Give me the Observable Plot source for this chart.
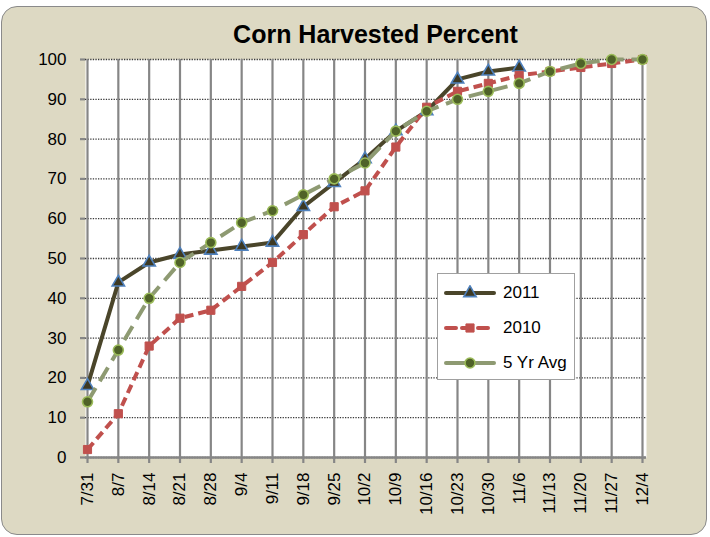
<!DOCTYPE html>
<html>
<head>
<meta charset="utf-8">
<script src="https://cdn.jsdelivr.net/npm/d3@7"></script>
<script src="https://cdn.jsdelivr.net/npm/@observablehq/plot@0.6"></script>
<style>
  html, body { margin: 0; padding: 0; background: #ffffff; }
  #wrap { position: relative; width: 710px; height: 537px; overflow: hidden; font-family: "Liberation Sans", Arial, sans-serif; }
  #bg { position: absolute; left: 1px; top: 6px; width: 704px; height: 527px; background: #DDD9C3; border: 1.5px solid #8a8a8a; border-radius: 16px; }
  #title { position: absolute; left: 0; top: 22px; width: 751px; text-align: center; font: bold 25px/25px "Liberation Sans", Arial, sans-serif; color: #000; }
  #chart { position: absolute; left: 0; top: 0; }
  #legend { position: absolute; left: 437px; top: 273px; width: 136px; height: 105px; background: #fff; border: 1.5px solid #a0a0a0; }
  .item { position: absolute; left: 6px; height: 20px; display: flex; align-items: center; font-size: 17px; color: #000; }
  .item svg { margin-right: 7px; }
</style>
</head>
<body>
<div id="wrap">
  <div id="bg"></div>
  <div id="chart"></div>
  <div id="title">Corn Harvested Percent</div>
  <div id="legend"></div>
</div>
<script>
const dates = ["7/31","8/7","8/14","8/21","8/28","9/4","9/11","9/18","9/25","10/2","10/9","10/16","10/23","10/30","11/6","11/13","11/20","11/27","12/4"];
const seriesNames = ["2011", "2010", "5 Yr Avg"];
const values2011 = [18,44,49,51,52,53,54,63,69,75,82,87,95,97,98];
const values2010 = [2,11,28,35,37,43,49,56,63,67,78,88,92,94,96,97,98,99,100];
const valuesAvg  = [14,27,40,49,54,59,62,66,70,74,82,87,90,92,94,97,99,100,100];
const yTicks = [0,10,20,30,40,50,60,70,80,90,100];

const toRows = (vals, name) => vals.map((v, i) => ({date: dates[i], value: v, series: name}));
const d2011 = toRows(values2011, seriesNames[0]);
const d2010 = toRows(values2010, seriesNames[1]);
const dAvg  = toRows(valuesAvg,  seriesNames[2]);

const styles = {
  "2011":     {line: "#4A452A", width: 4, dash: null, symbol: "triangle", r: 4.6, fill: "#3D3923", stroke: "#4F81BD", sw: 1.6},
  "2010":     {line: "#C0504D", width: 4, dash: "9 5", symbol: "square", r: 4.6, fill: "#C0504D", stroke: "#C0504D", sw: 1},
  "5 Yr Avg": {line: "#8E9A72", width: 4, dash: "16 8", symbol: "circle", r: 5, fill: "#4F6228", stroke: "#9BBB59", sw: 1.6}
};

function seriesMarks(data, name) {
  const s = styles[name];
  return [
    Plot.line(data, {x: "date", y: "value", stroke: s.line, strokeWidth: s.width, strokeDasharray: s.dash, strokeLinejoin: "round", strokeLinecap: s.dash ? "butt" : "round"}),
    Plot.dot(data, {x: "date", y: "value", symbol: s.symbol, r: s.r, fill: s.fill, stroke: s.stroke, strokeWidth: s.sw})
  ];
}

const chart = Plot.plot({
  width: 710,
  height: 537,
  marginLeft: 85,
  marginRight: 64,
  marginTop: 59,
  marginBottom: 80,
  style: {background: "transparent", fontFamily: "'Liberation Sans', Arial, sans-serif", color: "#000"},
  x: {type: "point", domain: dates, padding: 0, round: false, insetLeft: 2, insetRight: 4, label: null},
  y: {domain: [0, 100], label: null},
  marks: [
    Plot.frame({fill: "white", stroke: null}),
    Plot.gridY(yTicks, {stroke: "#3a3a3a", strokeOpacity: 1, strokeWidth: 1.3, strokeDasharray: "1.3 1.3"}),
    Plot.gridX(dates, {stroke: "#868686", strokeOpacity: 1, strokeWidth: 2.2}),
    Plot.ruleY([0], {stroke: "#868686", strokeWidth: 2.5}),
    Plot.axisY(yTicks, {tickSize: 5, tickPadding: 14, stroke: "#868686", strokeWidth: 2.2, fill: "#000", fontSize: 17, label: null}),
    Plot.axisX(dates, {tickSize: 6, tickPadding: 9, tickRotate: -90, stroke: "#868686", strokeWidth: 2.2, fill: "#000", fontSize: 17, label: null}),
    ...seriesMarks(d2011, "2011"),
    ...seriesMarks(d2010, "2010"),
    ...seriesMarks(dAvg, "5 Yr Avg")
  ]
});
document.getElementById("chart").appendChild(chart);

// Legend
const legend = d3.select("#legend");
seriesNames.forEach((name, i) => {
  const s = styles[name];
  const item = legend.append("div").attr("class", "item").style("top", (9 + i * 35) + "px");
  const svg = item.append("svg").attr("width", 52).attr("height", 16);
  svg.append("line").attr("x1", 2).attr("x2", 50).attr("y1", 8).attr("y2", 8)
    .attr("stroke", s.line).attr("stroke-width", s.width)
    .attr("stroke-dasharray", name === "2010" ? "10 6" : null)
    .attr("stroke-linecap", "round");
  const sym = d3.symbol().type(s.symbol === "triangle" ? d3.symbolTriangle : s.symbol === "square" ? d3.symbolSquare : d3.symbolCircle).size(Math.PI * s.r * s.r);
  svg.append("path").attr("d", sym()).attr("transform", "translate(26,8)")
    .attr("fill", s.fill).attr("stroke", s.stroke).attr("stroke-width", s.sw);
  item.append("span").text(name);
});
</script>
</body>
</html>
